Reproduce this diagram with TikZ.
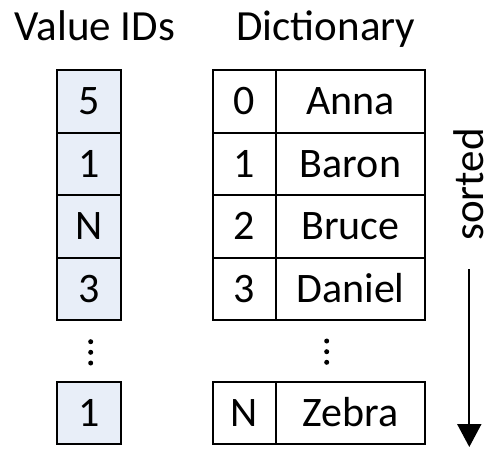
\documentclass[tikz,border=0pt]{standalone}
\usepackage{fontspec}
\setmainfont{Carlito}
\usetikzlibrary{arrows.meta}
\definecolor{idfill}{RGB}{232,238,248}
\tikzset{
  cell/.style={draw=black, line width=2pt, inner sep=0pt, minimum height=62.5pt, font=\fontsize{42}{50}\selectfont, text height=27pt, text depth=0pt},
  idcell/.style={cell, fill=idfill, minimum width=64pt},
  numcell/.style={cell, minimum width=63pt},
  namecell/.style={cell, minimum width=149pt},
  title/.style={font=\fontsize{43}{50}\selectfont, anchor=base, inner sep=0pt},
  vdots/.style={fill=black, circle, inner sep=0pt, minimum size=5pt}
}
\begin{document}
\begin{tikzpicture}[x=1pt,y=1pt]
\useasboundingbox (0,0) rectangle (496,-459);
% titles
\node[title] (tv) at (95,-40) {Value IDs};
\node[title] (td) at (326,-40) {Dictionary};
% value ids
\node[idcell] (v1) at (89,-101.25) {5};
\node[idcell] (v2) at (89,-163.75) {1};
\node[idcell] (v3) at (89,-226.25) {N};
\node[idcell] (v4) at (89,-288.75) {3};
\node[idcell] (v5) at (89,-413) {1};
% dictionary numbers
\node[numcell] (n1) at (244.5,-101.25) {0};
\node[numcell] (n2) at (244.5,-163.75) {1};
\node[numcell] (n3) at (244.5,-226.25) {2};
\node[numcell] (n4) at (244.5,-288.75) {3};
\node[numcell] (n5) at (244.5,-413) {N};
% dictionary names
\node[namecell] (a1) at (350.5,-101.25) {Anna};
\node[namecell] (a2) at (350.5,-163.75) {Baron};
\node[namecell] (a3) at (350.5,-226.25) {Bruce};
\node[namecell] (a4) at (350.5,-288.75) {Daniel};
\node[namecell] (a5) at (350.5,-413) {Zebra};
% dots
\node[vdots] (d1) at (90.7,-341.7) {};
\node[vdots] (d2) at (90.7,-352.3) {};
\node[vdots] (d3) at (90.7,-363) {};
\node[vdots] (e1) at (326.7,-341) {};
\node[vdots] (e2) at (326.7,-351.7) {};
\node[vdots] (e3) at (326.7,-362.3) {};
% sorted arrow
\node[title, rotate=90] (srt) at (483,-184.5) {sorted};
\coordinate (as) at (469.3,-269);
\coordinate (ae) at (469.3,-447);
\draw[line width=2pt, -{Triangle[width=24pt,length=23pt]}] (as) -- (ae);
\end{tikzpicture}
\end{document}
